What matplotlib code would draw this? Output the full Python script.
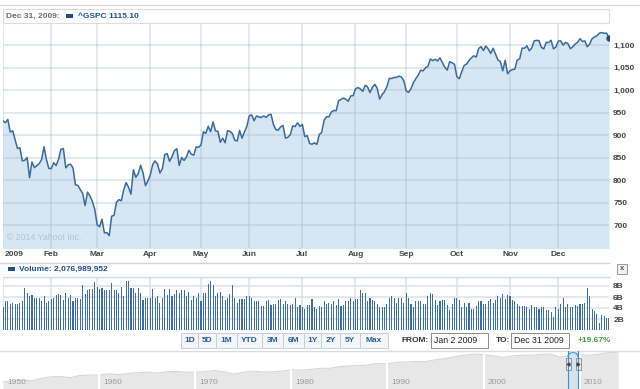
import matplotlib
matplotlib.use('Agg')
import matplotlib.pyplot as plt
import matplotlib.transforms as mtransforms
from matplotlib.patches import Rectangle, Arc
import numpy as np
import pandas as pd

plt.rcParams['font.family'] = ['Liberation Sans', 'DejaVu Sans']

# ---------------- data ----------------
holidays = ['2009-01-19', '2009-02-16', '2009-04-10', '2009-05-25', '2009-07-03',
            '2009-09-07', '2009-11-26', '2009-12-25']
dates = pd.bdate_range('2009-01-02', '2009-12-31').difference(pd.to_datetime(holidays))

close_jan = [931.80, 927.45, 934.70, 906.65, 909.73, 890.35, 870.26, 871.79, 842.62, 843.74,
             850.12, 805.22, 840.24, 827.50, 831.95, 836.57, 845.71, 874.09, 845.14, 825.88]
close_feb = [825.44, 838.51, 832.23, 845.85, 868.60, 869.89, 827.16, 833.74, 835.19, 826.84,
             789.17, 788.42, 778.94, 770.05, 743.33, 773.14, 764.90, 752.83, 735.09]
close_mar = [700.82, 696.33, 712.87, 682.55, 683.38, 676.53, 719.60, 721.36, 750.74, 756.55,
             753.89, 778.12, 794.35, 784.04, 768.54, 822.92, 806.12, 813.88, 832.86, 815.94,
             787.53, 797.87]
close_apr = [811.08, 834.38, 842.50, 835.48, 815.55, 825.16, 856.56, 858.73, 841.50, 852.06,
             865.30, 869.60, 832.39, 850.08, 843.55, 851.92, 866.23, 857.51, 855.16, 873.64,
             872.81]
close_may = [877.52, 907.24, 903.80, 919.53, 907.39, 929.23, 909.24, 908.35, 883.92, 893.07,
             882.88, 909.71, 908.13, 903.47, 888.33, 887.00, 910.33, 893.06, 906.83, 919.14]
close_jun = [942.87, 944.74, 931.76, 942.46, 940.09, 939.14, 942.43, 939.15, 944.89, 946.21,
             923.72, 911.97, 910.71, 918.37, 921.23, 893.04, 895.10, 900.94, 920.26, 918.90,
             927.23, 919.32]
close_jul = [923.33, 896.42, 898.72, 881.03, 879.56, 882.68, 879.13, 901.05, 905.84, 932.68,
             940.74, 940.38, 951.13, 954.58, 954.07, 976.29, 979.26, 982.18, 979.62, 975.15,
             986.75, 987.48]
close_aug = [1002.63, 1005.65, 1002.72, 997.08, 1010.48, 1007.10, 994.35, 1005.81, 1012.73,
             1004.09, 979.73, 989.67, 996.46, 1007.37, 1026.13, 1025.57, 1028.00, 1028.12,
             1030.98, 1028.93, 1020.62]
close_sep = [998.04, 994.75, 1003.24, 1016.40, 1025.39, 1033.37, 1044.14, 1042.73, 1049.34,
             1052.63, 1068.76, 1065.49, 1068.30, 1064.66, 1071.66, 1060.87, 1050.78, 1044.38,
             1062.98, 1060.61, 1057.08]
close_oct = [1029.85, 1025.21, 1040.46, 1054.72, 1057.58, 1065.48, 1071.49, 1076.19, 1073.19,
             1092.02, 1096.56, 1087.68, 1097.91, 1091.06, 1081.40, 1092.91, 1079.60, 1066.95,
             1063.41, 1042.63, 1066.11, 1036.19]
close_nov = [1042.88, 1045.41, 1046.50, 1066.63, 1069.30, 1093.08, 1093.01, 1098.51, 1087.24,
             1093.48, 1109.30, 1110.32, 1109.80, 1094.90, 1091.38, 1106.24, 1105.65, 1110.63,
             1091.49, 1095.63]
close_dec = [1108.86, 1109.24, 1099.92, 1105.98, 1103.25, 1091.94, 1095.95, 1102.35, 1106.41,
             1114.11, 1107.93, 1109.18, 1096.08, 1102.47, 1114.05, 1118.02, 1120.59, 1126.48,
             1127.78, 1126.20, 1126.42, 1115.10]

# daily volume, billions of shares
volume_part1 = [4.1, 5.3, 5.3, 4.7, 5.0, 4.7, 4.7, 5.0, 5.3, 7.7,
                6.7, 6.2, 6.4, 5.9, 5.9, 5.9, 5.3, 6.2, 5.0, 5.3,
                5.6, 5.9, 6.4, 6.5, 6.4, 5.5, 6.7, 5.9, 6.4, 5.2,
                5.9, 5.8, 5.6, 8.2, 6.5, 7.2, 7.5, 7.5, 8.8, 7.8,
                7.5, 7.6, 7.3, 7.2, 7.2, 8.5, 7.2, 7.2, 6.7, 7.9,
                6.1, 9.0, 8.9, 7.6, 7.6, 6.7, 7.6, 6.8, 5.5, 5.9,
                5.9, 5.9, 7.5, 5.9, 6.1, 5.0]
volume_part2 = [5.9, 7.5, 6.4, 7.5, 6.2, 6.5, 7.3, 6.8, 7.3, 7.2,
                6.2, 7.0, 5.5, 6.2, 5.9, 6.8, 5.2, 6.8, 6.7, 8.4,
                9.0, 8.1, 6.1, 6.7, 7.0, 6.1, 5.5, 5.8, 6.5, 8.1,
                5.9, 5.0, 5.6, 5.6, 5.6, 6.1, 6.2, 5.9, 5.3, 5.3,
                5.2, 4.4, 4.4, 5.3, 5.5, 4.5, 4.7, 4.8, 5.5, 5.6,
                4.8, 5.2, 4.8, 4.5, 4.8, 5.9, 4.2, 4.5, 4.1, 3.9,
                4.5, 4.5, 5.6, 4.2]
volume_part3 = [3.8, 4.4, 4.1, 5.2, 4.8, 5.0, 4.8, 5.3, 4.5, 5.6,
                4.4, 4.5, 5.3, 5.2, 5.9, 5.2, 5.6, 5.6, 7.2, 6.7,
                6.8, 5.3, 5.8, 5.5, 5.2, 4.8, 4.1, 4.1, 4.2, 4.8,
                5.9, 6.2, 5.8, 5.0, 5.8, 5.8, 5.0, 6.8, 5.9, 4.8,
                4.1, 5.2, 5.2, 5.2, 4.8, 4.8, 6.1, 6.8, 6.5, 5.5,
                4.5, 5.2, 5.5, 5.5, 4.5, 3.6, 4.8, 5.9, 5.8, 5.5,
                4.2, 5.0, 4.2, 5.0]
volume_part4 = [3.8, 3.8, 4.4, 5.3, 5.3, 4.8, 4.7, 5.3, 5.6, 5.0,
                5.5, 6.2, 5.9, 6.5, 5.6, 6.4, 6.2, 5.5, 5.3, 4.7,
                4.4, 4.4, 4.4, 4.2, 3.9, 4.5, 4.1, 4.2, 3.8, 4.2,
                4.2, 3.6, 3.6, 3.2, 2.3, 4.2, 3.9, 4.7, 5.8, 4.1,
                4.7, 4.2, 4.2, 4.5, 4.4, 4.7, 4.7, 5.0, 7.6, 6.2,
                3.9, 3.5, 2.9, 1.2, 2.8, 2.5, 2.2, 2.1]

price_ticks = [700, 750, 800, 850, 900, 950, 1000, 1050, 1100]
volume_ticks = [2, 4, 6, 8]
volume_tick_labels = ['2B', '4B', '6B', '8B']
month_labels = ['2009', 'Feb', 'Mar', 'Apr', 'May', 'Jun', 'Jul', 'Aug', 'Sep', 'Oct', 'Nov', 'Dec']

# long-term navigator (year-end closes)
nav_years = list(range(1950, 2015))
nav_close = [20.41, 23.77, 26.57, 24.81, 35.98, 45.48, 46.67, 39.99, 55.21, 59.89,
             58.11, 71.55, 63.10, 75.02, 84.75, 92.43, 80.33, 96.47, 103.86, 92.06,
             92.15, 102.09, 118.05, 97.55, 68.56, 90.19, 107.46, 95.10, 96.11, 107.94,
             135.76, 122.55, 140.64, 164.93, 167.24, 211.28, 242.17, 247.08, 277.72, 353.40,
             330.22, 417.09, 435.71, 466.45, 459.27, 615.93, 740.74, 970.43, 1229.23, 1469.25,
             1320.28, 1148.08, 879.82, 1111.92, 1211.92, 1248.29, 1418.30, 1468.36, 903.25, 1115.10,
             1257.64, 1257.60, 1426.19, 1848.36, 1960.00]
nav_decades = [1950, 1960, 1970, 1980, 1990, 2000, 2010]

range_buttons = ['1D', '5D', '1M', 'YTD', '3M', '6M', '1Y', '2Y', '5Y', 'Max']

closes = close_jan + close_feb + close_mar + close_apr + close_may + close_jun + \
    close_jul + close_aug + close_sep + close_oct + close_nov + close_dec
volume = volume_part1 + volume_part2 + volume_part3 + volume_part4
n = len(dates)
closes = closes[:n]
volume = (volume + [volume[-1]] * n)[:n]
x = np.arange(n)
month_idx = [int(np.argmax(dates.month == m)) for m in range(1, 13)]

# ---------------- figure ----------------
W, H = 640, 389
fig = plt.figure(figsize=(6.4, 3.89), dpi=100)
fig.patch.set_facecolor('white')


def rect(x0, y0, x1, y1):
    return [x0 / W, 1 - y1 / H, (x1 - x0) / W, (y1 - y0) / H]


FS = 6
LINE = '#3a6a9c'
FILL = '#d6e6f2'
GRID = '#9fb6cc'
TXT = '#444444'

# main price chart
ax = fig.add_axes(rect(3, 23, 609, 248))
ax.fill_between(x, closes, 640, color=FILL, lw=0, zorder=1)
ax.plot(x, closes, color=LINE, lw=1.1, zorder=3, solid_joinstyle='round')
ax.plot(x[-1], closes[-1], 'o', ms=3.6, color='#1f4e85', zorder=4, clip_on=True)
ax.set_xlim(0, n - 1)
ax.set_ylim(649, 1149)
ax.set_yticks(price_ticks)
ax.set_yticklabels([f'{v:,}' for v in price_ticks])
ax.set_xticks(month_idx)
ax.set_xticklabels([])
ax.grid(True, color=GRID, alpha=0.33, lw=1.3, zorder=2)
ax.yaxis.tick_right()
ax.tick_params(axis='both', length=0)
ax.tick_params(axis='y', pad=3, labelsize=FS, labelcolor=TXT)
for lab in ax.get_yticklabels():
    lab.set_fontweight('bold')
for s in ax.spines.values():
    s.set_visible(False)
ax.text(0.007, 0.028, '\u00a9 2014 Yahoo! Inc.', transform=ax.transAxes, fontsize=6.3,
        color='#b3c3d0', ha='left', va='bottom', zorder=5)
tr = mtransforms.blended_transform_factory(ax.transData, ax.transAxes)
for i, (mi, ml) in enumerate(zip(month_idx, month_labels)):
    ax.text(mi + (0.8 if i == 0 else 0), -0.031, ml, transform=tr, fontsize=FS, fontweight='bold',
            color=TXT, ha='left' if i == 0 else 'center', va='center', clip_on=False)

# volume chart
vax = fig.add_axes(rect(3, 277, 609, 330))
vax.bar(x, volume, width=0.45, color='#3d6f9f', lw=0, zorder=2)
vax.set_xlim(0, n - 1)
vax.set_ylim(0, 53 / 5.5)
vax.set_yticks(volume_ticks)
vax.set_yticklabels(volume_tick_labels)
vax.set_xticks(month_idx)
vax.set_xticklabels([])
vax.grid(True, color='#dde4ea', lw=1.2, zorder=0)
vax.set_axisbelow(True)
vax.yaxis.tick_right()
vax.tick_params(axis='both', length=0)
vax.tick_params(axis='y', pad=3, labelsize=FS, labelcolor=TXT)
for lab in vax.get_yticklabels():
    lab.set_fontweight('bold')
for k, s in vax.spines.items():
    s.set_visible(k == 'top')
vax.spines['top'].set_color('#d3dbe3')
vax.spines['top'].set_linewidth(1.0)

# navigator
nax = fig.add_axes(rect(3, 351, 620, 389))
nax.fill_between(nav_years, nav_close, 1, color='#e7e7e7', lw=0)
nax.plot(nav_years, nav_close, color='#d6d6d6', lw=0.8)
nax.set_yscale('log')
nax.set_ylim(7, 2340)
nax.set_xlim(1950, 2014.2)
nax.axis('off')
for d in nav_decades[1:]:
    nax.axvline(d, color='white', lw=1.6)
for d in nav_decades:
    nax.text(d + 0.4, 0.18, str(d), transform=mtransforms.blended_transform_factory(nax.transData, nax.transAxes),
             fontsize=FS, color='#9a9a9a', va='center', ha='left')

# overlay for page chrome (pixel coordinates)
ov = fig.add_axes([0, 0, 1, 1], zorder=10)
ov.set_xlim(0, W)
ov.set_ylim(H, 0)
ov.axis('off')

ov.plot([0, W], [4.5, 4.5], color='#d8d8d8', lw=1.0)
ov.add_patch(Rectangle((3, 9), 606, 14, facecolor='white', edgecolor='#dcdcdc', lw=0.8))
ov.text(6, 16.3, 'Dec 31, 2009:', fontsize=FS, fontweight='bold', color='#6b6b6b', va='center')
ov.add_patch(Rectangle((66, 14), 7, 4, facecolor='#1d4f86', lw=0))
ov.text(78, 16.3, '^GSPC 1115.10', fontsize=FS, fontweight='bold', color='#1f4f87', va='center')

ov.plot([0, 609], [262.5, 262.5], color='#d4d4d4', lw=1.0)
ov.add_patch(Rectangle((8, 267), 7, 4, facecolor='#1d4f86', lw=0))
ov.text(19, 269.3, 'Volume: 2,076,989,952', fontsize=FS, fontweight='bold', color='#1f4f87', va='center')
ov.add_patch(Rectangle((617, 264), 10, 10, facecolor='#f0f0f0', edgecolor='#9a9a9a', lw=0.7))
ov.text(622, 269, 'x', fontsize=5.5, fontweight='bold', color='#555555', ha='center', va='center')

# range buttons
bw = [17, 18, 21, 25, 21, 21, 17, 19, 20, 28]
bx = 181
for lab, w in zip(range_buttons, bw):
    ov.add_patch(Rectangle((bx, 332.5), w, 15, facecolor='#f3f5f8', edgecolor='#c8ced6', lw=0.7))
    ov.text(bx + w / 2, 340.3, lab, fontsize=FS, fontweight='bold', color='#2a5d94',
            ha='center', va='center')
    bx += w
ov.text(402, 340.3, 'FROM:', fontsize=FS, fontweight='bold', color='#333333', va='center')
ov.add_patch(Rectangle((431, 332.5), 57, 15, facecolor='white', edgecolor='#8c8c8c', lw=0.7))
ov.text(434, 340.3, 'Jan 2 2009', fontsize=FS + 0.3, color='#222222', va='center')
ov.text(496, 340.3, 'TO:', fontsize=FS, fontweight='bold', color='#333333', va='center')
ov.add_patch(Rectangle((511, 332.5), 58, 15, facecolor='white', edgecolor='#8c8c8c', lw=0.7))
ov.text(514, 340.3, 'Dec 31 2009', fontsize=FS + 0.3, color='#222222', va='center')
ov.text(578, 340.3, '+19.67%', fontsize=FS, fontweight='bold', color='#3c9a3c', va='center')

# navigator chrome
ov.plot([0, W], [350.5, 350.5], color='#dcdcdc', lw=1.0)
ov.add_patch(Rectangle((568, 351), 10, 38, facecolor='#cfe2f3', alpha=0.7, lw=0))
ov.plot([568, 568], [351, 389], color='#3d8fd6', lw=0.8)
ov.plot([578, 578], [351, 389], color='#3d8fd6', lw=0.8)
ov.add_patch(Arc((573, 357), 10, 9, theta1=180, theta2=360, color='#3d8fd6', lw=0.8))
for hx, mk in ((565.5, '<'), (575.5, '>')):
    ov.add_patch(Rectangle((hx, 358), 5, 12, facecolor='#e9e9e9', edgecolor='#888888', lw=0.6))
    ov.plot(hx + 2.5, 364, marker=mk, ms=2, color='#444444')

fig.savefig('out.png', dpi=100, facecolor='white')
